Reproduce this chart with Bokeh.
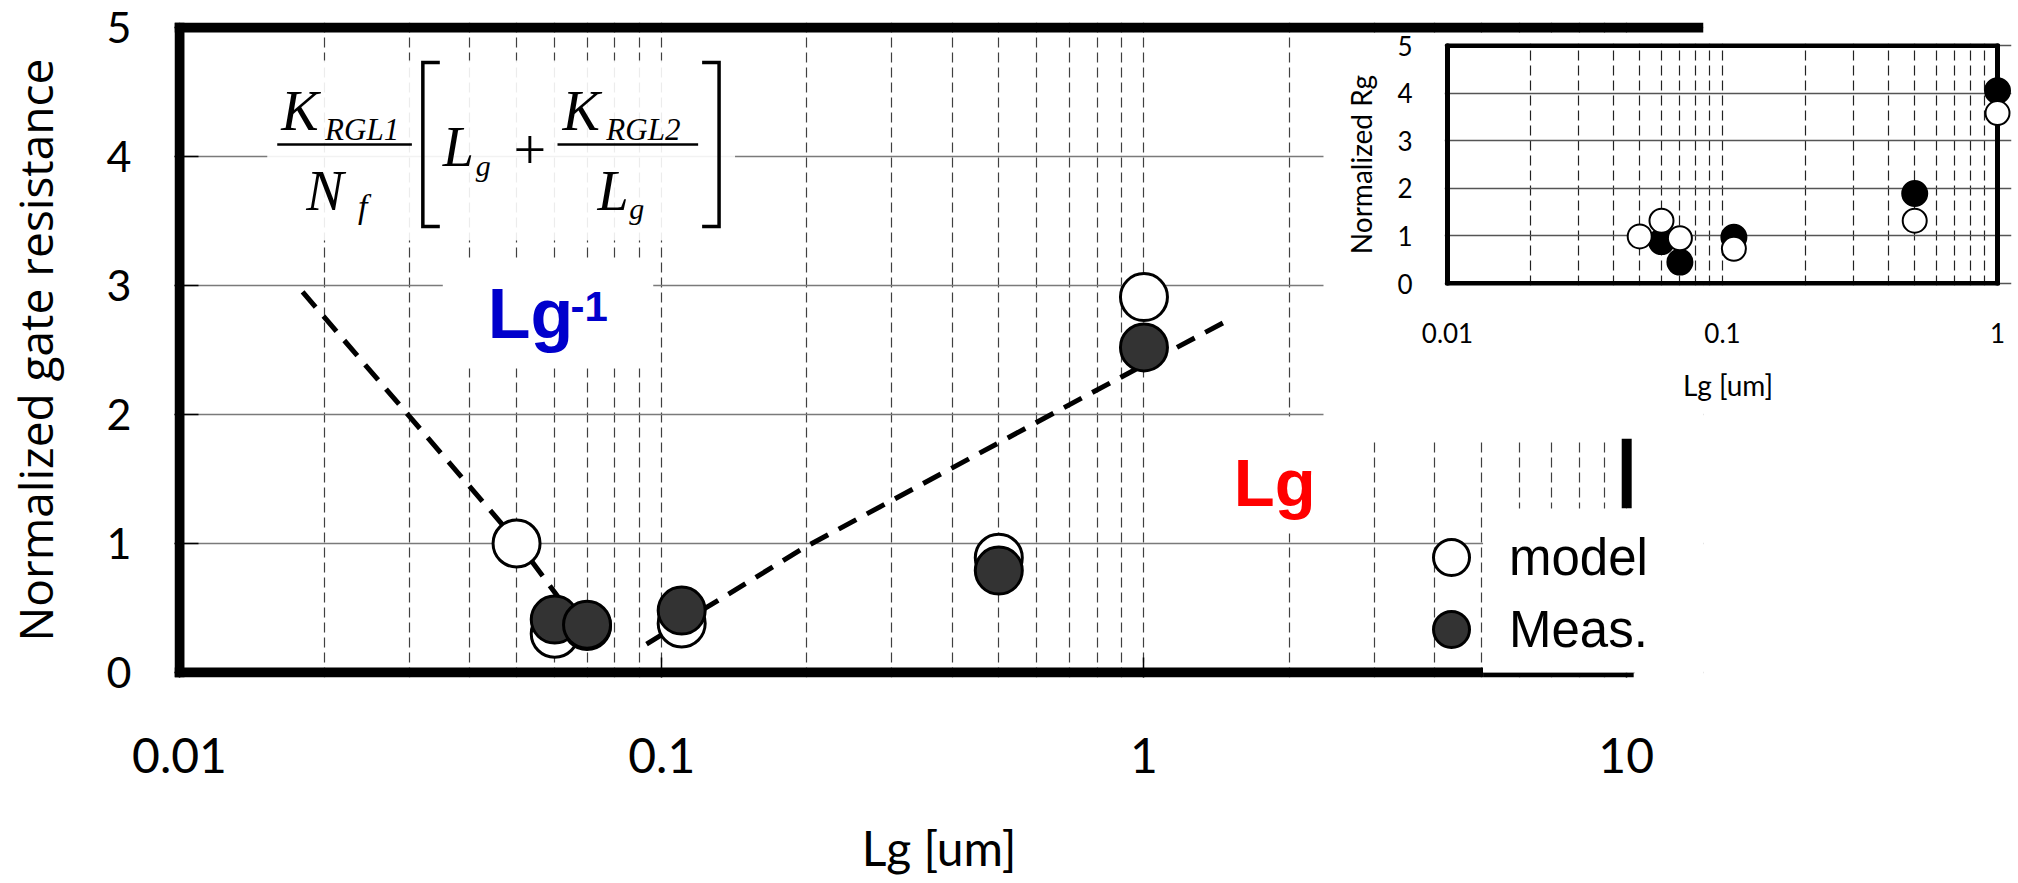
from bokeh.plotting import figure
from bokeh.layouts import row
from bokeh.models import (Range1d, LinearScale, FixedTicker,
                          Label, Legend, LegendItem, BoxAnnotation)
from bokeh.embed import file_html
from bokeh.resources import INLINE

# ---------------- data ----------------
lg_model = [0.05, 0.06, 0.07, 0.11, 0.5, 1.0]
main_model = [1.0, 0.30, 0.36, 0.38, 0.89, 2.91]
lg_meas = [0.06, 0.07, 0.11, 0.5, 1.0]
main_meas = [0.41, 0.37, 0.48, 0.79, 2.52]

inset_model = [0.99, 1.32, 0.95, 0.73, 1.32, 3.58]
inset_meas = [0.88, 0.45, 0.97, 1.89, 4.05]

fit_short_x = [0.018, 0.0505, 0.073]
fit_short_y = [2.95, 1.0, 0.19]
fit_long_x = [0.093, 0.198, 0.72, 1.51]
fit_long_y = [0.22, 0.97, 2.10, 2.74]

x_tick_values = [0.01, 0.1, 1, 10]
x_tick_labels = ["0.01", "0.1", "1", "10"]
inset_x_tick_values = [0.01, 0.1, 1]
inset_x_tick_labels = ["0.01", "0.1", "1"]
y_tick_values = [0, 1, 2, 3, 4, 5]

main_minor = [m * d for d in (0.01, 0.1, 1) for m in range(2, 10)]
inset_minor = [m * d for d in (0.01, 0.1) for m in range(2, 10)]

# ---------------- main figure ----------------
W, H = 2018, 883
X0PX, Y0PX, Y5PX = 175, 672, 27     # pixel of Lg=0.01, of y=0, of y=5
DEC = 483.5                         # pixels per decade
UNIT = (Y0PX - Y5PX) / 5.0
FL, FR, FT, FB = 170, 1703, 22, 677  # frame incl. the thick border band
TOP_B, BOT_B = FT, H - FB            # shared top / bottom border of both plots

p = figure(width=W, height=H, x_axis_type="log",
           x_range=Range1d(10 ** (-2 - (X0PX - FL) / DEC), 10 ** ((FR - X0PX) / DEC - 2)),
           y_range=Range1d(-(FB - Y0PX) / UNIT, 5 + (Y5PX - FT) / UNIT),
           output_backend="svg", toolbar_location=None,
           min_border_left=FL, min_border_right=W - FR,
           min_border_top=TOP_B, min_border_bottom=BOT_B,
           background_fill_color="white", border_fill_color="white",
           outline_line_color=None)

# pixel-space ranges for overlays (equation, labels, white boxes, borders)
p.extra_x_ranges = {"px": Range1d(FL, FR)}
p.extra_y_ranges = {"py": Range1d(FB, FT)}
p.extra_x_scales = {"px": LinearScale()}
p.extra_y_scales = {"py": LinearScale()}

xt = FixedTicker(ticks=x_tick_values, minor_ticks=main_minor)
yt = FixedTicker(ticks=y_tick_values)

xa = p.xaxis[0]
xa.ticker = xt
xa.major_label_overrides = dict(zip(x_tick_values, x_tick_labels))
xa.axis_line_color = None
xa.major_tick_in = 20
xa.major_tick_out = 0
xa.major_tick_line_width = 1.5
xa.minor_tick_line_color = None
xa.major_label_text_font = "Lato"
xa.major_label_text_font_size = "48px"
xa.major_label_text_color = "black"
xa.major_label_standoff = 56
xa.axis_label = "Lg [um]"
xa.axis_label_text_font = "Lato"
xa.axis_label_text_font_size = "48px"
xa.axis_label_text_font_style = "normal"
xa.axis_label_text_color = "black"
xa.axis_label_standoff = 43

ya = p.yaxis[0]
ya.ticker = yt
ya.axis_line_color = None
ya.major_tick_in = 24
ya.major_tick_out = 0
ya.major_tick_line_width = 1.5
ya.minor_tick_line_color = None
ya.major_label_text_font = "Lato"
ya.major_label_text_font_size = "43px"
ya.major_label_text_color = "black"
ya.major_label_standoff = 43
ya.axis_label = "Normalized gate resistance"
ya.axis_label_text_font = "Open Sans"
ya.axis_label_text_font_size = "46px"
ya.axis_label_text_font_style = "normal"
ya.axis_label_text_color = "black"
ya.axis_label_standoff = 38

p.xgrid.ticker = xt
p.xgrid.grid_line_color = "#404040"
p.xgrid.grid_line_width = 1.2
p.xgrid.grid_line_dash = "10 5"
p.xgrid.minor_grid_line_color = "#404040"
p.xgrid.minor_grid_line_width = 1.2
p.xgrid.minor_grid_line_dash = "10 5"
p.ygrid.ticker = yt
p.ygrid.grid_line_color = "#7a7a7a"
p.ygrid.grid_line_width = 1.5

def px_box(l, r, t, b, color, alpha=1.0):
    p.add_layout(BoxAnnotation(left=l, right=r, top=t, bottom=b,
                               x_range_name="px", y_range_name="py",
                               fill_color=color, fill_alpha=alpha,
                               line_color=None, level="annotation"))

# white backgrounds of pasted annotations
p.quad(left=[263], right=[732], top=[60], bottom=[240], fill_color="white",
       fill_alpha=0.9, line_color=None, x_range_name="px", y_range_name="py")
p.quad(left=[439, 1200], right=[650, 1322], top=[258, 416], bottom=[368, 533],
       fill_color="white", line_color=None, x_range_name="px", y_range_name="py")

# equation: brackets and fraction bars
p.line([436, 419, 419, 436], [62, 62, 226, 226], line_width=3.5, color="black",
       line_join="miter", x_range_name="px", y_range_name="py")
p.line([699, 716, 716, 699], [62, 62, 226, 226], line_width=3.5, color="black",
       line_join="miter", x_range_name="px", y_range_name="py")
p.line([273, 408], [144, 144], line_width=2.5, color="black",
       x_range_name="px", y_range_name="py")
p.line([554, 695], [144, 144], line_width=2.5, color="black",
       x_range_name="px", y_range_name="py")

def put_text(txt, x, baseline, size, style="italic", font="Liberation Serif",
             color="black", k=0.20):
    # vertically centred placement computed from the wanted baseline
    p.add_layout(Label(x=x, y=baseline - k * size, text=txt,
                       x_range_name="px", y_range_name="py",
                       text_font=font, text_font_style=style,
                       text_font_size=f"{size}px", text_color=color,
                       text_align="left", text_baseline="middle"))

put_text("K", 277, 122, 56)
put_text("RGL1", 321, 135, 31)
put_text("N", 302, 202, 56)
put_text("f", 354, 213, 34)
put_text("L", 439, 158, 56)
put_text("g", 472, 171, 30)
put_text("+", 510, 161, 58, style="normal")
put_text("K", 559, 122, 56)
put_text("RGL2", 603, 135, 31)
put_text("L", 594, 202, 56)
put_text("g", 626, 214, 30)

put_text("Lg", 484, 338, 70, style="bold", font="Liberation Sans", color="#0000CC", k=0.345)
put_text("-1", 567, 320, 42, style="bold", font="Liberation Sans", color="#0000CC", k=0.345)
put_text("Lg", 1232, 505, 67, style="bold", font="Liberation Sans", color="#FF0000", k=0.345)

# fitted trends
p.line(fit_short_x, fit_short_y, line_width=5, color="black", line_dash="20 12")
p.line(fit_long_x, fit_long_y, line_width=5, color="black", line_dash="20 12")

# data
r_model = p.scatter(lg_model, main_model, size=47, fill_color="white",
                    line_color="black", line_width=3)
r_meas = p.scatter(lg_meas, main_meas, size=47, fill_color="#333333",
                   line_color="black", line_width=3)

# thick frame borders (left, top, bottom, visible piece of the right edge)
px_box(170, 180, 22, 677, "black")
px_box(170, 1703, 22, 32, "black")
px_box(170, 1482, 667, 677, "black")
px_box(1482, 1633, 672, 677, "black")
px_box(1621, 1631, 438, 508, "black")

# area hidden by the pasted inset
OX = 1322
px_box(OX, FR, 36, 438, "white")
# legend panel (white behind the texts)
px_box(1482, FR, 508, 672, "white")
px_box(1634, FR, 660, 677, "white")

for item_label, rend, top_y in (("model", r_model, 512), ("Meas.", r_meas, 584)):
    leg = Legend(items=[LegendItem(label=item_label, renderers=[rend])],
                 location=(1402 - FL, FB - (top_y + 90)),
                 glyph_width=90, glyph_height=90, label_standoff=13,
                 label_text_font="Liberation Sans", label_text_font_size="51px",
                 label_text_color="black", background_fill_alpha=0,
                 border_line_color=None, padding=0, margin=0, spacing=0)
    p.add_layout(leg, "center")

# ---------------- inset figure ----------------
IW = W - OX
IFL, IFR, IFT, IFB = 1444, 2011, 43, 285
IOY = IFT - TOP_B                    # canvas top of the inset
IH = TOP_B + (IFB - IFT) + BOT_B
x0_px, x1_px, idec = 1447, 1997, 275.0
y0_px, y5_px = 283, 45
unit = (y0_px - y5_px) / 5.0
ix_lo, ix_hi, iy_lo, iy_hi = 0.01, 1, 0, 5

q = figure(width=IW, height=IH, x_axis_type="log",
           x_range=Range1d(10 ** (-2 - (x0_px - IFL) / idec), 10 ** ((IFR - x1_px) / idec)),
           y_range=Range1d(-(IFB - y0_px) / unit, 5 + (y5_px - IFT) / unit),
           output_backend="svg", toolbar_location=None,
           min_border_left=IFL - OX, min_border_right=IW - (IFR - OX),
           min_border_top=TOP_B, min_border_bottom=BOT_B,
           background_fill_color="white", border_fill_color=None,
           outline_line_color=None)

qxt = FixedTicker(ticks=inset_x_tick_values, minor_ticks=inset_minor)
qyt = FixedTicker(ticks=y_tick_values)
qx = q.xaxis[0]
qx.ticker = qxt
qx.major_label_overrides = dict(zip(inset_x_tick_values, inset_x_tick_labels))
qx.axis_line_color = None
qx.major_tick_line_color = None
qx.minor_tick_line_color = None
qx.major_label_text_font = "Lato"
qx.major_label_text_font_size = "26px"
qx.major_label_text_color = "black"
qx.major_label_standoff = 31
qx.axis_label = "Lg [um]"
qx.axis_label_text_font = "Lato"
qx.axis_label_text_font_size = "28px"
qx.axis_label_text_font_style = "normal"
qx.axis_label_text_color = "black"
qx.axis_label_standoff = 22

qy = q.yaxis[0]
qy.ticker = qyt
qy.axis_line_color = None
qy.major_tick_line_color = None
qy.minor_tick_line_color = None
qy.major_label_text_font = "Lato"
qy.major_label_text_font_size = "26px"
qy.major_label_text_color = "black"
qy.major_label_standoff = 26
qy.axis_label = "Normalized Rg"
qy.axis_label_text_font = "Lato"
qy.axis_label_text_font_size = "28px"
qy.axis_label_text_font_style = "normal"
qy.axis_label_text_color = "black"
qy.axis_label_standoff = 16

q.xgrid.ticker = qxt
q.xgrid.grid_line_color = "#222222"
q.xgrid.grid_line_width = 1.2
q.xgrid.grid_line_dash = "10 5"
q.xgrid.minor_grid_line_color = "#222222"
q.xgrid.minor_grid_line_width = 1.2
q.xgrid.minor_grid_line_dash = "10 5"
q.ygrid.ticker = qyt
q.ygrid.grid_line_color = "#555555"
q.ygrid.grid_line_width = 1.3

# frame border of the inset
q.segment(x0=[ix_lo, ix_hi, ix_lo, ix_lo], y0=[iy_lo, iy_lo, iy_lo, iy_hi],
          x1=[ix_lo, ix_hi, ix_hi, ix_hi], y1=[iy_hi, iy_hi, iy_lo, iy_hi],
          line_width=5, color="black", line_cap="round")

q.scatter(lg_meas, inset_meas, size=25, fill_color="black", line_color="black", line_width=2)
q.scatter(lg_model, inset_model, size=24, fill_color="white", line_color="black", line_width=2)

q.margin = (IOY, 0, 0, -IW)

layout = row(p, q)
open("out.html", "w").write(file_html(layout, INLINE))
